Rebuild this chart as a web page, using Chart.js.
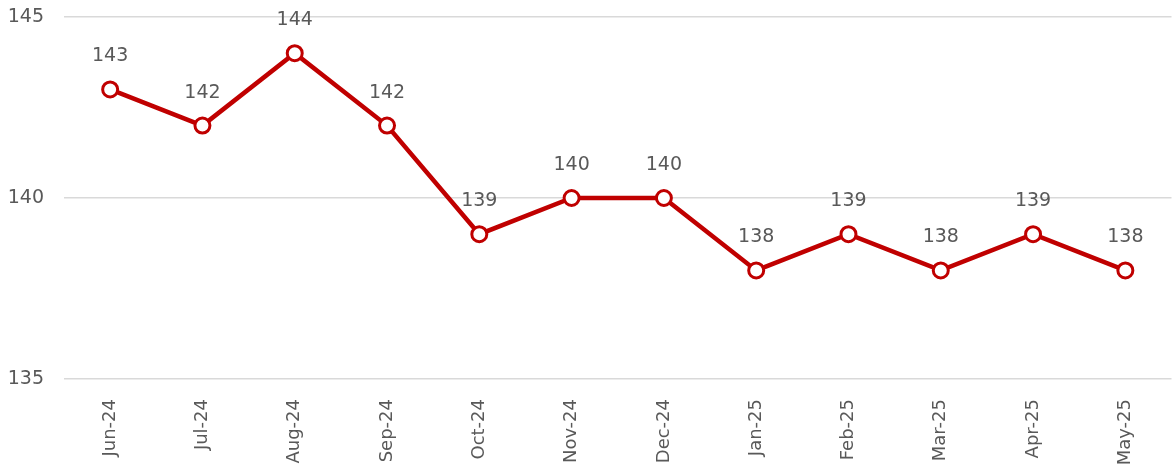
<!DOCTYPE html>
<html>
<head>
<meta charset="utf-8">
<script src="https://cdn.jsdelivr.net/npm/chart.js@4.4.0/dist/chart.umd.min.js"></script>
<style>
  html, body { margin: 0; padding: 0; background: #fff; overflow: hidden; }
  #wrap { width: 1182px; height: 471px; }
</style>
</head>
<body>
<div id="wrap"><canvas id="lineChart"></canvas></div>
<script>
const months = ['Jun-24', 'Jul-24', 'Aug-24', 'Sep-24', 'Oct-24', 'Nov-24', 'Dec-24', 'Jan-25', 'Feb-25', 'Mar-25', 'Apr-25', 'May-25'];
const values = [143, 142, 144, 142, 139, 140, 140, 138, 139, 138, 139, 138];
const yTicks = [135, 140, 145];

const textGrey = '#595959';
const fontFamily = '"DejaVu Sans", sans-serif';

// simple data labels above each point
const pointLabels = {
    id: 'pointLabels',
    afterDatasetsDraw(chart) {
        const ctx = chart.ctx;
        const meta = chart.getDatasetMeta(0);
        ctx.save();
        ctx.fillStyle = textGrey;
        ctx.font = '19px ' + fontFamily;
        ctx.textAlign = 'center';
        ctx.textBaseline = 'middle';
        meta.data.forEach((pt, i) => {
            ctx.fillText(values[i], pt.x, pt.y - 33);
        });
        ctx.restore();
    }
};

const ctx = document.getElementById('lineChart').getContext('2d');
new Chart(ctx, {
    type: 'line',
    data: {
        labels: months,
        datasets: [{
            data: values,
            borderColor: '#C00000',
            borderWidth: 4.5,
            pointBackgroundColor: '#ffffff',
            pointBorderColor: '#C00000',
            pointBorderWidth: 3,
            pointRadius: 7.5,
            tension: 0
        }]
    },
    options: {
        responsive: true,
        maintainAspectRatio: false,
        animation: false,
        layout: { padding: { top: 17, right: 0, left: 0, bottom: 0 } },
        plugins: {
            legend: { display: false },
            tooltip: { enabled: false }
        },
        scales: {
            x: {
                offset: true,
                grid: { display: false },
                border: { display: false },
                afterFit: (axis) => {
                    axis.paddingLeft = 0;
                    axis.paddingRight = 0;
                    axis.height = 92;
                },
                ticks: {
                    color: textGrey,
                    font: { family: fontFamily, size: 18 },
                    minRotation: 90,
                    maxRotation: 90,
                    padding: 12
                }
            },
            y: {
                min: 135,
                max: 145,
                afterBuildTicks: (axis) => { axis.ticks = yTicks.map(v => ({ value: v })); },
                afterFit: (axis) => {
                    axis.paddingTop = 0;
                    axis.paddingBottom = 0;
                    axis.width = 64;
                },
                grid: { color: '#d9d9d9', lineWidth: 1.5, drawTicks: false },
                border: { display: false },
                ticks: {
                    color: textGrey,
                    font: { family: fontFamily, size: 19 },
                    padding: 20
                }
            }
        }
    },
    plugins: [pointLabels]
});
</script>
</body>
</html>
